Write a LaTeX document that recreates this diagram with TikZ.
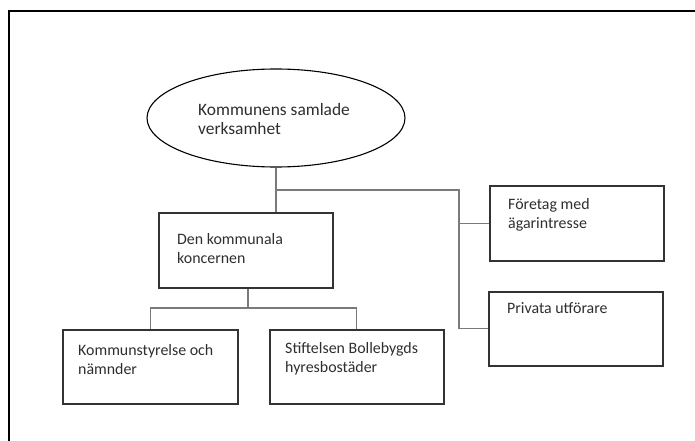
\documentclass[tikz,border=0pt]{standalone}
\usepackage{fontspec}
\setmainfont{Carlito}
\usetikzlibrary{shapes.geometric,calc}
\definecolor{txtc}{HTML}{2E2E2E}
\definecolor{linec}{HTML}{7A7A7A}
\definecolor{boxc}{HTML}{333333}
\tikzset{
  box/.style={draw=boxc, line width=1.5pt, rectangle, inner sep=0pt, anchor=north west},
  oval/.style={draw=black, line width=1.1pt, ellipse, inner sep=0pt},
  txt/.style={anchor=base west, inner sep=0pt, text=txtc, font=\fontsize{15.9}{19}\selectfont},
  bigtxt/.style={txt, font=\fontsize{17.4}{19}\selectfont},
  conn/.style={draw=linec, line width=1.1pt},
  frame/.style={draw=black, line width=2pt}
}
\newcommand{\twol}[2]{\parbox[t]{200pt}{#1\\#2}}
\begin{document}
\begin{tikzpicture}[x=1pt,y=-1pt]
\useasboundingbox (0,0) rectangle (695,441);
% frame (top and left edges)
\coordinate (ftl) at (9,11);
\coordinate (ftr) at (695,11);
\coordinate (fbl) at (9,441);
\draw[frame] (ftr) -- (ftl) -- (fbl);
% nodes
\node[oval, minimum width=258, minimum height=98] (top) at (276,118) {};
\node[bigtxt] (toptxt) at (198,115) {\twol{Kommunens samlade}{verksamhet}};
\node[box, minimum width=174, minimum height=75] (kon) at (158,212) {};
\node[txt] (kontxt) at (177,244) {\twol{Den kommunala}{koncernen}};
\node[box, minimum width=174, minimum height=75] (for) at (489,185) {};
\node[txt] (fortxt) at (508,209) {\twol{Företag med}{ägarintresse}};
\node[box, minimum width=174, minimum height=74] (pri) at (488,291) {};
\node[txt] (pritxt) at (507,313) {Privata utförare};
\node[box, minimum width=175, minimum height=74] (ks) at (62,329) {};
\node[txt] (kstxt) at (78,355) {\twol{Kommunstyrelse och}{nämnder}};
\node[box, minimum width=174, minimum height=74] (sb) at (269,329) {};
\node[txt] (sbtxt) at (285,353) {\twol{Stiftelsen Bollebygds}{hyresbostäder}};
% connectors
\coordinate (j1) at (276,190);
\coordinate (j2) at (459,190);
\coordinate (j3) at (248,308);
\draw[conn] (top.south) -- (j1) -- (kon.north -| j1);
\draw[conn] (j1) -- (j2) -- (j2 |- pri.west) -- (pri.west);
\draw[conn] (j2 |- for.west) -- (for.west);
\draw[conn] (kon.south -| j3) -- (j3);
\draw[conn] (ks.north) |- (j3) -| (sb.north);
\end{tikzpicture}
\end{document}
